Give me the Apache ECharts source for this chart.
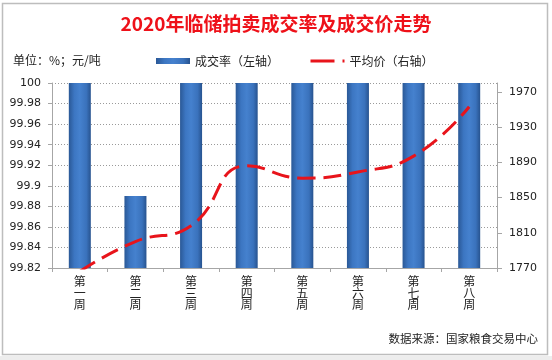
<!DOCTYPE html>
<html>
<head>
<meta charset="utf-8">
<script src="https://cdn.jsdelivr.net/npm/echarts@6/dist/echarts.min.js"></script>
<style>
html,body{margin:0;padding:0;background:#fff;}
#c{width:552px;height:360px;}
</style>
</head>
<body>
<div id="c"></div>
<script>
const categories = ['第一周','第二周','第三周','第四周','第五周','第六周','第七周','第八周'];
const rateValues = [100, 99.89, 100, 100, 100, 100, 100, 100];
const priceValues = [1766, 1800, 1818, 1886, 1872, 1879, 1897, 1953];
const rightTicks = [1770, 1810, 1850, 1890, 1930, 1970];

const CJK = '"Noto Sans CJK SC", "Noto Sans", sans-serif';
const NUM = '"DejaVu Sans", Verdana, sans-serif';

const chart = echarts.init(document.getElementById('c'), null, {renderer: 'canvas'});
chart.setOption({
  animation: false,
  backgroundColor: '#fff',
  title: {
    text: '2020年临储拍卖成交率及成交价走势',
    left: 'center',
    top: 9,
    textStyle: {color: '#EE1119', fontSize: 19, fontWeight: 'bold', fontFamily: CJK}
  },
  legend: {
    left: 151,
    top: 50,
    itemGap: 30,
    itemWidth: 34,
    itemHeight: 6,
    textStyle: {color: '#222', fontSize: 12, fontFamily: CJK},
    data: [
      {name: '成交率（左轴）', icon: 'rect'},
      {name: '平均价（右轴）', lineStyle: {type: [24, 8], width: 3}, itemStyle: {opacity: 0}}
    ]
  },
  grid: {left: 52, right: 55, top: 83, bottom: 92},
  xAxis: {
    type: 'category',
    data: categories,
    axisLine: {lineStyle: {color: '#A6A6A6'}},
    axisTick: {show: true, length: 4, lineStyle: {color: '#A6A6A6'}},
    axisLabel: {
      interval: 0,
      margin: 8,
      color: '#222',
      fontSize: 12,
      lineHeight: 11.5,
      fontFamily: CJK,
      formatter: v => v.split('').join('\n')
    }
  },
  yAxis: [
    {
      type: 'value',
      min: 99.82,
      max: 100,
      interval: 0.02,
      axisLine: {show: true, lineStyle: {color: '#A6A6A6'}},
      axisTick: {show: true, length: 4, lineStyle: {color: '#A6A6A6'}},
      axisLabel: {color: '#222', fontSize: 11, fontFamily: NUM, margin: 11},
      splitLine: {show: true, lineStyle: {color: '#9A9A9A', type: [1, 2]}}
    },
    {
      type: 'value',
      min: 1770,
      max: 1980,
      position: 'right',
      axisLine: {show: true, lineStyle: {color: '#A6A6A6'}},
      axisTick: {show: true, length: 5, customValues: rightTicks, lineStyle: {color: '#A6A6A6'}},
      axisLabel: {color: '#222', fontSize: 11, fontFamily: NUM, margin: 12, customValues: rightTicks, formatter: v => String(v)},
      splitLine: {show: false}
    }
  ],
  series: [
    {
      name: '成交率（左轴）',
      type: 'bar',
      yAxisIndex: 0,
      barWidth: 22,
      data: rateValues,
      itemStyle: {
        color: new echarts.graphic.LinearGradient(0, 0, 1, 0, [
          {offset: 0, color: '#2A5896'},
          {offset: 0.25, color: '#3C76C2'},
          {offset: 0.5, color: '#4581CE'},
          {offset: 0.8, color: '#3A72BC'},
          {offset: 1, color: '#27538F'}
        ])
      }
    },
    {
      name: '平均价（右轴）',
      type: 'line',
      yAxisIndex: 1,
      data: priceValues,
      smooth: 0.5,
      symbol: 'none',
      lineStyle: {color: '#E8141B', width: 3, type: [18, 8]},
      itemStyle: {color: '#E8141B'}
    }
  ],
  graphic: [
    {type: 'rect', shape: {x: 2.5, y: 3.5, width: 545, height: 351}, style: {fill: 'none', stroke: '#BDBDBD', lineWidth: 1.5}, silent: true},
    {type: 'rect', shape: {x: 0, y: 356, width: 552, height: 4}, style: {fill: '#EDEDED'}, silent: true},
    {type: 'text', left: 13, top: 54, style: {text: '单位：%；元/吨', fill: '#222', font: '12px ' + CJK}},
    {type: 'text', right: 14, top: 333, style: {text: '数据来源：国家粮食交易中心', fill: '#222', font: '11.5px ' + CJK}}
  ]
});
</script>
</body>
</html>
